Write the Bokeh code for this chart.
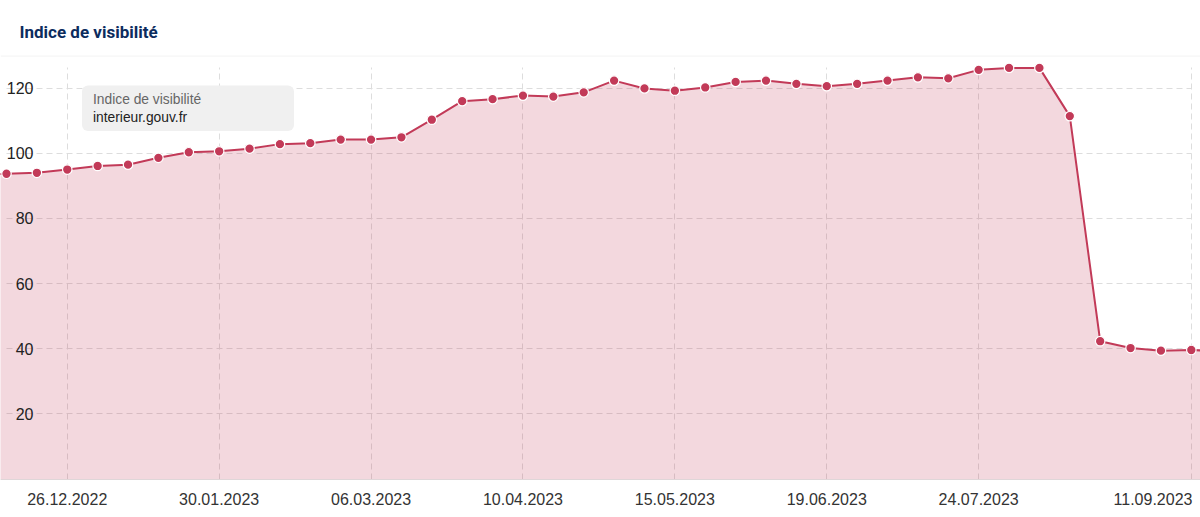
import pandas as pd
from bokeh.plotting import figure
from bokeh.models import (ColumnDataSource, FixedTicker, Range1d, BoxAnnotation, Label, Span, LinearAxis)
from bokeh.embed import file_html
from bokeh.resources import INLINE

title_text = "Indice de visibilité"
legend_title = "Indice de visibilité"
legend_domain = "interieur.gouv.fr"

first_week = "2022-12-12"
values = [93.7, 94.0, 95.0, 96.1, 96.5, 98.6, 100.3, 100.6, 101.4, 102.8,
          103.1, 104.2, 104.2, 104.9, 110.3, 116.0, 116.6, 117.7, 117.4, 118.7,
          122.3, 119.9, 119.2, 120.2, 121.9, 122.3, 121.3, 120.6, 121.3, 122.3,
          123.3, 123.0, 125.6, 126.2, 126.2, 111.4, 42.3, 40.2, 39.4, 39.6]
value_before = 93.4
value_after = 39.2

x_tick_dates = ["2022-12-26", "2023-01-30", "2023-03-06", "2023-04-10",
                "2023-05-15", "2023-06-19", "2023-07-24", "2023-09-11"]
x_tick_labels = ["26.12.2022", "30.01.2023", "06.03.2023", "10.04.2023",
                 "15.05.2023", "19.06.2023", "24.07.2023", "11.09.2023"]
y_ticks = [20, 40, 60, 80, 100, 120]

DAY = 86400000.0
dates = pd.date_range(first_week, periods=len(values), freq="7D")
all_dates = pd.date_range(dates[0] - pd.Timedelta(days=7), periods=len(values) + 2, freq="7D")
all_values = [value_before] + values + [value_after]
t0 = dates[0].value / 1e6
t1 = dates[-1].value / 1e6
tick_ms = [pd.Timestamp(d).value / 1e6 for d in x_tick_dates]

H, W = 517, 1200
TOP, BOTTOM = 55, 38
FRAME_BOTTOM = H - BOTTOM
PX_PER_DAY = 30.38 / 7
x_range = Range1d(t0 - 6 / PX_PER_DAY * DAY, t0 + 1194 / PX_PER_DAY * DAY)
# 0 sits at y=478.5px, one unit is 3.2575px
y_end = (478.5 - TOP) / 3.2575
y_start = (478.5 - FRAME_BOTTOM) / 3.2575
y_range = Range1d(y_start, y_end)


def px_to_ms(px):
    return t0 + (px - 6) / PX_PER_DAY * DAY


p = figure(width=W, height=H, x_axis_type="datetime", x_range=x_range, y_range=y_range,
           output_backend="svg", toolbar_location=None, y_axis_location=None,
           min_border_left=0, min_border_right=0, min_border_top=TOP, min_border_bottom=BOTTOM,
           background_fill_color="white", border_fill_color="white",
           outline_line_color=None, title=title_text)

p.title.text_font = "Roboto"
p.title.text_font_size = "17px"
p.title.text_font_style = "bold"
p.title.text_color = "#0c2c5e"
p.title.offset = 19
p.title.standoff = 28

# gaps in the horizontal grid lines behind the y labels
p.hbar(y=y_ticks, height=1.0, left=px_to_ms(12.5),
       right=[px_to_ms(43 if t >= 100 else 33) for t in y_ticks],
       fill_color="white", line_color=None, level="underlay")

src = ColumnDataSource(dict(x=all_dates, y=all_values, base=[0] * len(all_values)))
p.varea(x="x", y1="base", y2="y", source=src, fill_color="#c23a58", fill_alpha=0.2)
p.line(x="x", y="y", source=src, line_color="#c23a58", line_width=2)
p.scatter(x="x", y="y", source=src, size=9.5, fill_color="#c23a58", line_color="white", line_width=1.2)

# x axis: the last label is kept inside the card, so its text sits left of its grid line
label_ticks = tick_ms[:-1] + [px_to_ms(1152.5)]
ax = p.xaxis[0]
ax.ticker = FixedTicker(ticks=label_ticks)
ax.major_label_overrides = {m: l for m, l in zip(label_ticks, x_tick_labels)}
ax.major_label_text_font = "Liberation Sans"
ax.major_label_text_font_size = "16px"
ax.major_label_text_color = "#333333"
ax.major_label_standoff = 7
ax.axis_line_color = "#dfd6d8"
ax.major_tick_line_color = None
ax.minor_tick_line_color = None

# y axis, its labels inside the plot area
yax = LinearAxis(ticker=FixedTicker(ticks=y_ticks))
yax.major_label_text_font = "Liberation Sans"
yax.major_label_text_font_size = "16px"
yax.major_label_text_color = "#222222"
yax.axis_line_color = None
yax.major_tick_line_color = None
yax.minor_tick_line_color = None
yax.fixed_location = px_to_ms(39)
yax.major_label_standoff = 0
p.add_layout(yax, "left")

# grids
xg = p.xgrid[0]
xg.ticker = FixedTicker(ticks=tick_ms)
xg.grid_line_color = "#dddddd"
xg.grid_line_dash = "6 4"
xg.grid_line_width = 1
xg.cross_bounds = (y_start, (478.5 - 67) / 3.2575)
p.ygrid[0].ticker = FixedTicker(ticks=y_ticks)
p.ygrid[0].grid_line_color = "#dddddd"
p.ygrid[0].grid_line_dash = "6 4"
p.ygrid[0].cross_bounds = (t0, t1)

# header rule
p.add_layout(Span(location=y_end - 0.12, dimension="width", line_color="#eeeeee", line_width=1))

# legend chip (screen y counts up from the frame's bottom edge)
p.add_layout(BoxAnnotation(left=81.5, right=293.5, top=FRAME_BOTTOM - 85, bottom=FRAME_BOTTOM - 130.5,
                           left_units="screen", right_units="screen", top_units="screen", bottom_units="screen",
                           fill_color="#f0f0f0", fill_alpha=1, line_color=None, border_radius=6))
p.add_layout(Label(x=92.5, y=FRAME_BOTTOM - 98.5, x_units="screen", y_units="screen", text=legend_title,
                   text_font="Liberation Sans", text_font_size="13.8px", text_color="#666666",
                   text_baseline="middle"))
p.add_layout(Label(x=92.5, y=FRAME_BOTTOM - 116.5, x_units="screen", y_units="screen", text=legend_domain,
                   text_font="Liberation Sans", text_font_size="13.8px", text_color="#222222",
                   text_baseline="middle"))

open("out.html", "w").write(file_html(p, INLINE))
